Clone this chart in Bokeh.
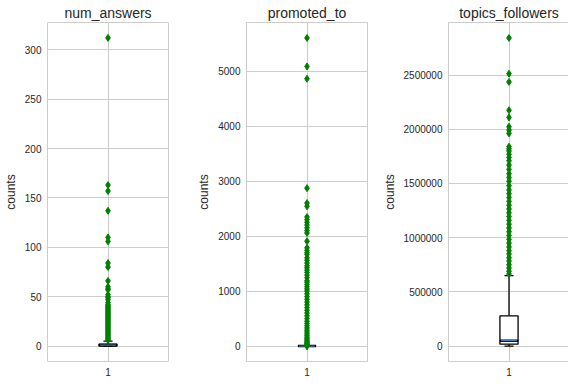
from bokeh.plotting import figure
from bokeh.layouts import row
from bokeh.models import Range1d, FixedTicker, BasicTickFormatter
from bokeh.embed import file_html
from bokeh.resources import INLINE

titles = ["num_answers", "promoted_to", "topics_followers"]

# box statistics: [whisker_low, q1, median, q3, whisker_high]
num_answers_stats = [0, 0, 1, 2, 5]
promoted_to_stats = [0, 0, 0, 0, 0]
topics_followers_stats = [0, 18000, 50000, 279000, 650000]

num_answers_outliers = [6, 7, 8, 9, 10, 11, 12, 13, 14, 15, 16, 17, 18, 19, 20, 21, 22, 23,
                        24, 25, 26, 27, 28, 29, 30, 31, 32, 33, 34, 35, 36, 37, 38, 39, 40,
                        41, 42, 44, 47, 49, 50, 52, 57, 58, 60, 66, 80, 84, 106, 110, 137,
                        157, 163, 312]
promoted_to_outliers = [1, 3, 6, 10, 15, 22, 30, 40, 55, 70, 90, 110, 135, 160, 190, 220,
                        255, 290, 330, 370, 410, 450, 500, 550, 600, 650, 700, 750, 800,
                        850, 900, 950, 1000, 1040, 1080, 1120, 1160, 1190, 1243, 1290,
                        1340, 1380, 1424, 1460, 1510, 1560, 1605, 1665, 1700, 1740, 1786,
                        1907, 2057, 2100, 2150, 2200, 2250, 2300, 2347, 2541, 2600, 2872,
                        4862, 5085, 5604]
topics_followers_outliers = [665000, 690000, 720000, 750000, 785000, 815000, 850000, 880000,
                             915000, 950000, 985000, 1020000, 1055000, 1090000, 1125000,
                             1160000, 1195000, 1230000, 1265000, 1300000, 1335000, 1370000,
                             1405000, 1440000, 1480000, 1520000, 1555000, 1590000, 1630000,
                             1670000, 1710000, 1740000, 1770000, 1800000, 1820000, 1840000,
                             1962000, 1993000, 2024000, 2109000, 2176000, 2437000, 2513000,
                             2843000]

num_answers_ticks = [0, 50, 100, 150, 200, 250, 300]
promoted_to_ticks = [0, 1000, 2000, 3000, 4000, 5000]
topics_followers_ticks = [0, 500000, 1000000, 1500000, 2000000, 2500000]

x_ticks = [1]
position = 1

TEXT = "#262626"
GRID = "#cccccc"
FONT = "Liberation Sans"


def make(title, stats, outliers, ticks, left, right):
    lo = min([stats[0]] + outliers)
    hi = max([stats[4]] + outliers)
    pad = 0.05 * (hi - lo)
    p = figure(frame_width=121, frame_height=339,
               x_range=Range1d(0.5, 1.5), y_range=Range1d(lo - pad, hi + pad),
               output_backend="svg", toolbar_location=None, title=title,
               min_border_left=left, min_border_right=right,
               min_border_top=15, min_border_bottom=18)
    p.background_fill_color = "white"
    p.border_fill_color = "white"
    p.outline_line_color = GRID
    p.outline_line_width = 1

    p.title.text_font = FONT
    p.title.text_font_size = "14px"
    p.title.text_font_style = "normal"
    p.title.text_color = TEXT
    p.title.align = "center"
    p.title.offset = 0
    p.title.standoff = 4

    p.xaxis.ticker = FixedTicker(ticks=x_ticks)
    p.yaxis.ticker = FixedTicker(ticks=ticks)
    p.yaxis.formatter = BasicTickFormatter(use_scientific=False)
    for ax in (p.xaxis[0], p.yaxis[0]):
        ax.axis_line_color = None
        ax.major_tick_line_color = None
        ax.minor_tick_line_color = None
        ax.major_tick_out = 0
        ax.major_tick_in = 0
        ax.major_label_text_font = FONT
        ax.major_label_text_font_size = "10px"
        ax.major_label_text_color = TEXT
        ax.major_label_standoff = 6
    p.yaxis.axis_label = "counts"
    p.yaxis.axis_label_text_font = FONT
    p.yaxis.axis_label_text_font_size = "12px"
    p.yaxis.axis_label_text_font_style = "normal"
    p.yaxis.axis_label_text_color = TEXT
    p.yaxis.axis_label_standoff = 4

    p.xgrid.grid_line_color = GRID
    p.ygrid.grid_line_color = GRID
    p.xgrid.grid_line_width = 1
    p.ygrid.grid_line_width = 1

    wlo, q1, med, q3, whi = stats
    hw = 0.075
    cw = 0.0375
    p.segment(x0=[position, position], y0=[q1, q3], x1=[position, position], y1=[wlo, whi],
              line_color="black", line_width=1.3)
    p.segment(x0=[position - cw] * 2, x1=[position + cw] * 2, y0=[wlo, whi], y1=[wlo, whi],
              line_color="black", line_width=1.3)
    p.quad(left=[position - hw], right=[position + hw], bottom=[q1], top=[q3],
           fill_color="white", line_color="black", line_width=1.3)
    p.segment(x0=[position - hw], x1=[position + hw], y0=[med], y1=[med],
              line_color="black", line_width=2.5)
    p.segment(x0=[position - hw + 0.01], x1=[position + hw - 0.01], y0=[med], y1=[med],
              line_color="#4a98d8", line_width=1)
    p.scatter(x=[position] * len(outliers), y=outliers, marker="diamond", size=7,
              fill_color="green", line_color="green")
    return p


p1 = make(titles[0], num_answers_stats, num_answers_outliers, num_answers_ticks, 40, 26)
p2 = make(titles[1], promoted_to_stats, promoted_to_outliers, promoted_to_ticks, 48, 12)
p3 = make(titles[2], topics_followers_stats, topics_followers_outliers, topics_followers_ticks, 64, 1)

p = row(p1, p2, p3)
open("out.html", "w").write(file_html(p, INLINE))
